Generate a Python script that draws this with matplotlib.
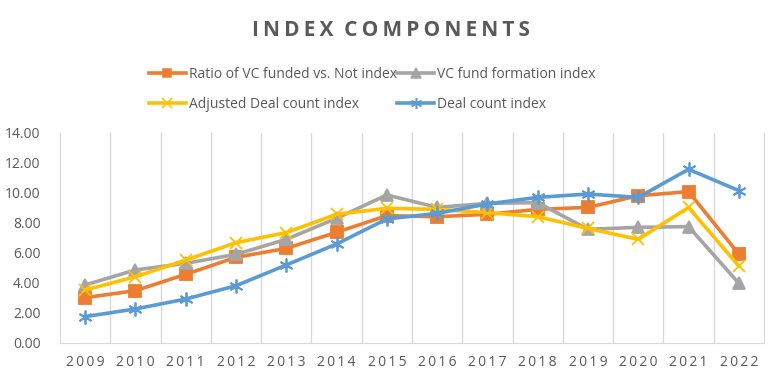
import matplotlib.pyplot as plt
from matplotlib.lines import Line2D

years = ['2009', '2010', '2011', '2012', '2013', '2014', '2015',
         '2016', '2017', '2018', '2019', '2020', '2021', '2022']
ratio_vc = [3.02, 3.49, 4.58, 5.71, 6.31, 7.38, 8.49, 8.42, 8.58, 8.91, 9.04, 9.82, 10.09, 5.93]
fund_formation = [3.87, 4.87, 5.31, 5.91, 6.91, 8.31, 9.87, 9.04, 9.31, 9.36, 7.58, 7.71, 7.76, 3.98]
adj_deal_count = [3.53, 4.42, 5.53, 6.69, 7.36, 8.58, 8.98, 8.91, 8.69, 8.42, 7.64, 6.91, 9.04, 5.13]
deal_count = [1.76, 2.27, 2.93, 3.82, 5.20, 6.60, 8.27, 8.64, 9.27, 9.71, 9.93, 9.71, 11.58, 10.16]

TXT = '#595959'
GRID = '#D9D9D9'
plt.rcParams['font.family'] = ['Open Sans', 'DejaVu Sans']

fig = plt.figure(figsize=(7.81, 3.79), dpi=100)
ax = fig.add_axes([60 / 781, 1 - 343 / 379, 704 / 781, 210 / 379])

series = [
    ('Ratio of VC funded vs. Not index', ratio_vc, '#ED7D31', 's', 8),
    ('VC fund formation index', fund_formation, '#A5A5A5', '^', 9),
    ('Adjusted Deal count index', adj_deal_count, '#FFC000', 'x', 9),
    ('Deal count index', deal_count, '#5B9BD5', (6, 2, 0), 10),
]
x = list(range(len(years)))
handles = []
for label, vals, col, mk, ms in series:
    ax.plot(x, vals, color=col, lw=2.6, marker=mk, ms=ms, mew=1.3,
            mfc=col, mec=col, zorder=3)
    handles.append(Line2D([], [], color=col, lw=2.6, marker=mk, ms=ms * 0.8,
                          mew=1.1, mfc=col, mec=col))

ax.set_xlim(-0.5, len(years) - 0.5)
ax.set_ylim(0, 14)
ax.set_yticks([0, 2, 4, 6, 8, 10, 12, 14])
ax.set_yticklabels(['%.2f' % v for v in ax.get_yticks()])
ax.set_xticks(x)
ax.set_xticklabels(['\u2009'.join(y) for y in years])
for b in [i + 0.5 for i in range(len(years) - 1)]:
    ax.axvline(b, color=GRID, lw=1, zorder=1)
ax.spines['top'].set_visible(False)
for s in ['right', 'bottom', 'left']:
    ax.spines[s].set_color(GRID)
ax.tick_params(length=0, colors=TXT, labelsize=10)
ax.tick_params(axis='x', pad=9)
ax.tick_params(axis='y', pad=14)

title = 'INDEX  COMPONENTS'
fig.text(0.5, 1 - 30 / 379, '\u2009'.join(title).replace('\u2009 \u2009 \u2009', '  '),
         ha='center', va='center', fontsize=15, fontweight='bold', color=TXT)

# legend is row-major in the reference: reorder for matplotlib's column filling
order = [0, 2, 1, 3]
leg = fig.legend([handles[i] for i in order], [series[i][0] for i in order], ncol=2,
                 loc='upper left', bbox_to_anchor=(149 / 781, 1 - 67 / 379),
                 frameon=False, fontsize=10, labelcolor=TXT,
                 handlelength=2.65, handletextpad=0.2, columnspacing=0.05,
                 labelspacing=1.08, borderpad=0, borderaxespad=0)

fig.savefig('out.png', dpi=100)
